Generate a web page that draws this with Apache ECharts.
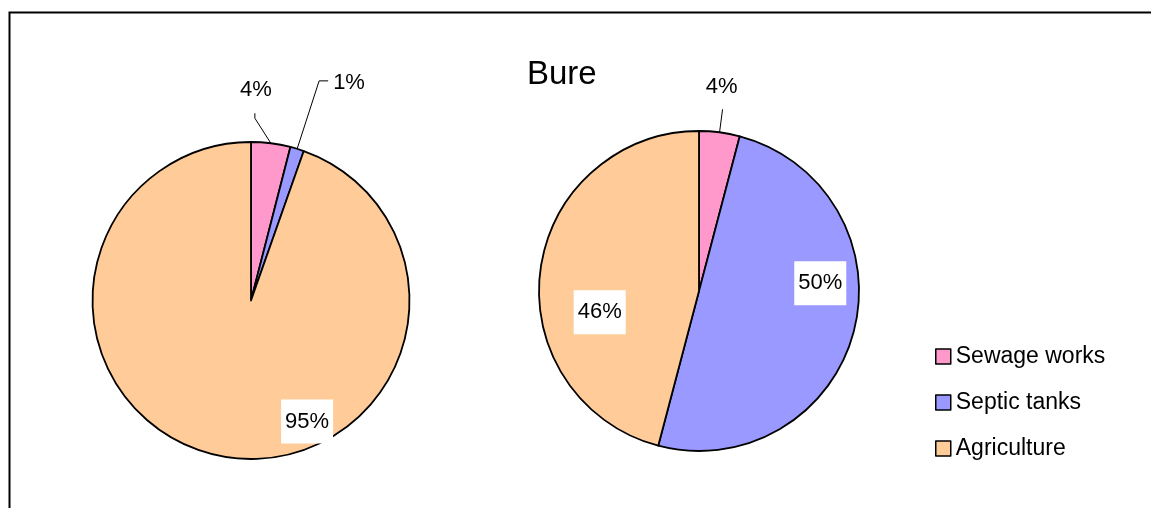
<!DOCTYPE html>
<html>
<head>
<meta charset="utf-8">
<script src="https://cdn.jsdelivr.net/npm/echarts@6/dist/echarts.min.js"></script>
<style>
html,body{margin:0;padding:0;background:#fff;}
#chart{width:1151px;height:508px;}
</style>
</head>
<body>
<div id="chart"></div>
<script>
// ---- data ----
const chartTitle = 'Bure';
const categories = ['Sewage works', 'Septic tanks', 'Agriculture'];
const leftValues = [4.0, 1.4, 94.6];
const rightValues = [4.1, 50.0, 45.9];
const colors = ['#FF99CC', '#9999FF', '#FFCC99'];

// ---- label placement (relative offsets, not data) ----
const labelPlace = {
  '0-0': { outside: true, line: [[-16, -25], [-16, -30]], text: [-15, -53], align: 'center' },
  '0-1': { outside: true, line: [[22, -68], [31, -68]], text: [36, -66], align: 'left' },
  '0-2': { outside: false, d: [70, 40] },
  '1-0': { outside: true, line: [[3, -23]], text: [2, -45], align: 'center' },
  '1-1': { outside: false, d: [41, -29] },
  '1-2': { outside: false, d: [-17, 32] }
};

const FONT = "'Liberation Sans', Arial, sans-serif";

function buildData(seriesIndex, values) {
  return categories.map((name, i) => {
    const p = labelPlace[seriesIndex + '-' + i];
    const item = { name: name, value: values[i], itemStyle: { color: colors[i] } };
    if (p.outside) {
      item.label = { position: 'outside', backgroundColor: 'transparent', padding: 0 };
      item.labelLine = { show: true, length: 20, length2: 5 };
    } else {
      item.label = { position: 'inside', backgroundColor: '#ffffff', padding: [11, 4] };
      item.labelLine = { show: false };
    }
    return item;
  });
}

function layoutFn(params) {
  const p = labelPlace[params.seriesIndex + '-' + params.dataIndex];
  if (!p) return {};
  if (p.outside && params.labelLinePoints) {
    const p0 = params.labelLinePoints[0];
    const pts = [[p0[0], p0[1]]].concat(p.line.map(o => [p0[0] + o[0], p0[1] + o[1]]));
    return {
      x: p0[0] + p.text[0],
      y: p0[1] + p.text[1],
      align: p.align,
      verticalAlign: 'middle',
      labelLinePoints: pts
    };
  }
  const r = params.labelRect;
  return {
    x: r.x + r.width / 2 + p.d[0],
    y: r.y + r.height / 2 + p.d[1],
    align: 'center',
    verticalAlign: 'middle'
  };
}

function pieSeries(idx, values, center, radius) {
  return {
    type: 'pie',
    center: center,
    radius: radius,
    startAngle: 90,
    clockwise: true,
    avoidLabelOverlap: false,
    silent: true,
    itemStyle: { borderColor: '#000', borderWidth: 1.8 },
    label: {
      show: true,
      formatter: function (p) { return Math.round(p.percent) + '%'; },
      color: '#000',
      fontFamily: FONT,
      fontSize: 22
    },
    labelLine: { lineStyle: { color: '#000', width: 1 } },
    labelLayout: layoutFn,
    emphasis: { disabled: true },
    data: buildData(idx, values)
  };
}

const chart = echarts.init(document.getElementById('chart'), null, { renderer: 'canvas' });
chart.setOption({
  animation: false,
  backgroundColor: '#ffffff',
  title: {
    text: chartTitle,
    left: 527,
    top: 58,
    padding: 0,
    textStyle: { fontFamily: FONT, fontSize: 33, fontWeight: 'normal', color: '#000' }
  },
  legend: {
    orient: 'vertical',
    left: 930,
    top: 340,
    itemWidth: 15,
    itemHeight: 15,
    itemGap: 23,
    icon: 'rect',
    selectedMode: false,
    data: categories,
    itemStyle: { borderColor: '#000', borderWidth: 1.5 },
    textStyle: { fontFamily: FONT, fontSize: 23, color: '#000', lineHeight: 23 }
  },
  graphic: [{
    type: 'rect',
    shape: { x: 9.5, y: 12.5, width: 1300, height: 700 },
    style: { fill: 'none', stroke: '#000', lineWidth: 2 },
    silent: true,
    z: 100
  }],
  series: [
    pieSeries(0, leftValues, [251, 300.5], 158.5),
    pieSeries(1, rightValues, [699, 291], 160)
  ]
});
</script>
</body>
</html>
